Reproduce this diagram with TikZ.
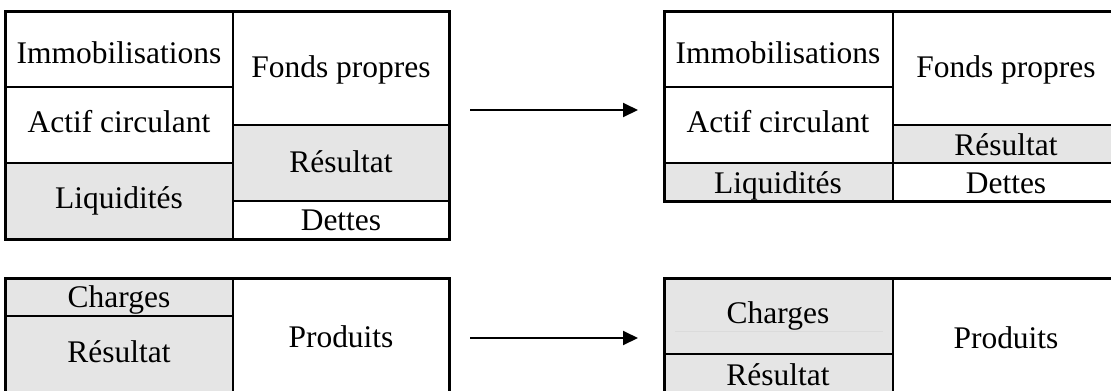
\documentclass[tikz,border=0pt]{standalone}
\usepackage{fontspec}
\setmainfont{Liberation Serif}
\usetikzlibrary{arrows.meta}

\tikzset{
  cell/.style={fill=black!10},
  inner/.style={line width=1.5},
  frame/.style={line width=2.25},
  lbl/.style={anchor=base, inner sep=0.75pt, font=\fontsize{23.6}{28}\selectfont},
  flow/.style={line width=1.5, -{Triangle[length=11.25, width=10.5]}},
}

\begin{document}
\begin{tikzpicture}[x=0.75pt,y=0.75pt,yscale=-1]
\useasboundingbox (0,0) rectangle (1111,390);
\clip (0,0) rectangle (1111,390);

%Bilan avant [top left]
\fill [cell] (5,163) rectangle (233,239);
\fill [cell] (233,125) rectangle (449,201);
\draw [inner] (5,87) -- (233,87) ;
\draw [inner] (5,163) -- (233,163) ;
\draw [inner] (233,11) -- (233,239) ;
\draw [inner] (233,125) -- (449,125) ;
\draw [inner] (233,201) -- (449,201) ;
\draw [frame] (5,11) rectangle (449,239) ;

% Text Node
\node [lbl] (immoA) at (119,63) {Immobilisations};
\node [lbl] (fondsA) at (341,77) {Fonds propres};
\node [lbl] (actifA) at (119,132) {Actif circulant};
\node [lbl] (resA) at (341,172) {Résultat};
\node [lbl] (liqA) at (119,208) {Liquidités};
\node [lbl] (dettesA) at (341,230) {Dettes};

%Bilan apres [top right]
\fill [cell] (893,125) rectangle (1119,163);
\fill [cell] (664,163) rectangle (893,201);
\draw [inner] (664,87) -- (893,87) ;
\draw [inner] (664,163) -- (1119,163) ;
\draw [inner] (893,11) -- (893,201) ;
\draw [inner] (893,125) -- (1119,125) ;
\draw [frame] (664,11) rectangle (1119,201) ;

% Text Node
\node [lbl] (immoB) at (778,63) {Immobilisations};
\node [lbl] (fondsB) at (1006,77) {Fonds propres};
\node [lbl] (actifB) at (778,132) {Actif circulant};
\node [lbl] (resB) at (1006,155) {Résultat};
\node [lbl] (liqB) at (778,193) {Liquidités};
\node [lbl] (dettesB) at (1006,193) {Dettes};

%Compte de resultat avant [bottom left]
\fill [cell] (5,278) rectangle (233,400);
\draw [inner] (5,316) -- (233,316) ;
\draw [inner] (233,278) -- (233,400) ;
\draw [frame] (5,278) rectangle (449,400) ;

% Text Node
\node [lbl] (chargesA) at (119,307) {Charges};
\node [lbl] (resC) at (119,362) {Résultat};
\node [lbl] (produitsA) at (341,347) {Produits};

%Compte de resultat apres [bottom right]
\fill [cell] (664,278) rectangle (893,400);
\draw [black!14, line width=0.5] (675,331) -- (883,331) ;
\draw [inner] (664,354) -- (893,354) ;
\draw [inner] (893,278) -- (893,400) ;
\draw [frame] (664,278) rectangle (1119,400) ;

% Text Node
\node [lbl] (chargesB) at (778,323) {Charges};
\node [lbl] (resD) at (778,385) {Résultat};
\node [lbl] (produitsB) at (1006,348) {Produits};

%Arrows
\coordinate (bilanFrom) at (470,110);
\coordinate (bilanTo) at (638,110);
\coordinate (crFrom) at (470,338);
\coordinate (crTo) at (638,338);
\draw [flow] (bilanFrom) -- (bilanTo) ;
\draw [flow] (crFrom) -- (crTo) ;

\end{tikzpicture}
\end{document}
